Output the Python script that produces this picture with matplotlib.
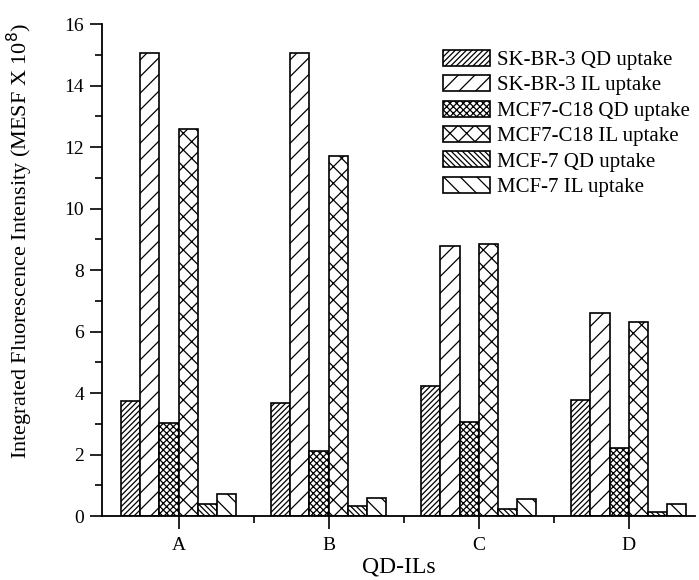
import matplotlib.pyplot as plt
import numpy as np
from matplotlib.ticker import MultipleLocator

plt.rcParams['font.family'] = ['Liberation Serif', 'DejaVu Serif']
plt.rcParams['hatch.linewidth'] = 0.9

groups = ['A', 'B', 'C', 'D']
series = ['SK-BR-3 QD uptake', 'SK-BR-3 IL uptake', 'MCF7-C18 QD uptake',
          'MCF7-C18 IL uptake', 'MCF-7 QD uptake', 'MCF-7 IL uptake']
sk_qd = [3.75, 3.69, 4.24, 3.77]
sk_il = [15.06, 15.06, 8.78, 6.6]
c18_qd = [3.02, 2.12, 3.07, 2.2]
c18_il = [12.58, 11.7, 8.85, 6.3]
mcf_qd = [0.39, 0.32, 0.22, 0.14]
mcf_il = [0.71, 0.6, 0.56, 0.38]
values = [sk_qd, sk_il, c18_qd, c18_il, mcf_qd, mcf_il]
hatches = ['//////', '//', 'xxxxx', 'xx', '\\\\\\\\\\\\', '\\\\']

fig = plt.figure(figsize=(6.99, 5.8), dpi=100)
ax = fig.add_axes([0.146, 0.1103, 0.848, 0.848])

x = np.arange(len(groups))
w = 0.128
for i, (vals, h, lab) in enumerate(zip(values, hatches, series)):
    ax.bar(x + (i - 2.5) * w, vals, w, facecolor='white', edgecolor='black',
           hatch=h, linewidth=1.2, label=lab)

ax.set_xlim(-0.51, 3.44)
ax.set_ylim(0, 16)
ax.set_xticks(x)
ax.set_xticklabels(groups)
ax.set_xticks(x[:-1] + 0.5, minor=True)
ax.yaxis.set_major_locator(MultipleLocator(2))
ax.yaxis.set_minor_locator(MultipleLocator(1))
ax.tick_params(axis='both', which='major', direction='out', length=9, width=1.2, labelsize=14)
ax.tick_params(axis='both', which='minor', direction='out', length=5, width=1.2)
ax.tick_params(axis='x', pad=6)
ax.tick_params(axis='y', pad=4)

for s in ['top', 'right']:
    ax.spines[s].set_visible(False)
for s in ['left', 'bottom']:
    ax.spines[s].set_linewidth(1.3)

ax.set_xlabel('QD-ILs', fontsize=17, labelpad=2)
ax.set_ylabel('Integrated Fluorescence Intensity (MESF X 10$^8$)', fontsize=16)
ax.yaxis.set_label_coords(-0.113, 0.56)

ax.legend(loc='upper right', bbox_to_anchor=(1.005, 0.965), frameon=False, fontsize=15,
          handlelength=2.25, handleheight=0.8, handletextpad=0.3, labelspacing=0.25,
          borderaxespad=0.0)

fig.savefig('out.png', dpi=100)
